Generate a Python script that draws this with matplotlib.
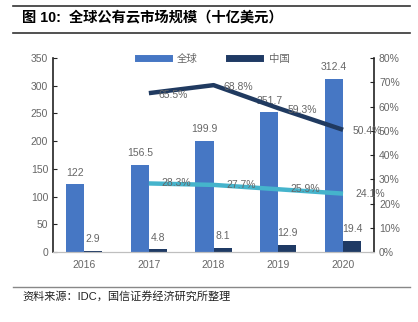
import matplotlib
matplotlib.use("Agg")
import matplotlib.pyplot as plt
import numpy as np
from matplotlib.lines import Line2D

plt.rcParams['font.family'] = ['Liberation Sans', 'Noto Sans CJK SC', 'DejaVu Sans']

years = ["2016", "2017", "2018", "2019", "2020"]
global_vals = [122, 156.5, 199.9, 251.7, 312.4]
china_vals = [2.9, 4.8, 8.1, 12.9, 19.4]
china_growth = [65.5, 68.8, 59.3, 50.4]   # 2017-2020
global_growth = [28.3, 27.7, 25.9, 24.1]  # 2017-2020
growth_years_idx = [1, 2, 3, 4]

c_global = "#4677C4"
c_china = "#1F3A64"
c_line_cn = "#203A60"
c_line_gl = "#45B4CC"
grey = "#666666"

fig = plt.figure(figsize=(4.18, 3.22), dpi=100)
ax = fig.add_axes([0.127, 0.217, 0.768, 0.603])
ax2 = ax.twinx()

x = np.arange(len(years))
w = 0.28
ax.bar(x - w/2, global_vals, w, color=c_global, zorder=2)
ax.bar(x + w/2, china_vals, w, color=c_china, zorder=2)

for xi, v in zip(x, global_vals):
    ax.annotate(f"{v:g}", (xi - w/2, v), xytext=(0, 5), textcoords="offset points",
                ha="center", va="bottom", fontsize=7.5, color=grey)
for xi, v in zip(x, china_vals):
    ax.annotate(f"{v:g}", (xi + w/2, v), xytext=(0, 5), textcoords="offset points",
                ha="center", va="bottom", fontsize=7.5, color=grey)

ax.set_xlim(-0.48, 4.48)
ax.set_ylim(0, 350)
ax.set_yticks(np.arange(0, 351, 50))
ax.set_xticks(x)
ax.set_xticklabels(years)
ax2.set_ylim(0, 80)
ax2.set_yticks(np.arange(0, 81, 10))
ax2.set_yticklabels([f"{v}%" for v in range(0, 81, 10)])

gx = [x[i] for i in growth_years_idx]
ax2.plot(gx, china_growth, color=c_line_cn, lw=3.2, solid_capstyle="butt", zorder=3)
ax2.plot(gx, global_growth, color=c_line_gl, lw=3.2, solid_capstyle="butt", zorder=3)
for xi, v in zip(gx, china_growth):
    ax2.annotate(f"{v:.1f}%", (xi, v), xytext=(7, -1), textcoords="offset points",
                 ha="left", va="center", fontsize=7.5, color=grey)
for xi, v in zip(gx, global_growth):
    ax2.annotate(f"{v:.1f}%", (xi, v), xytext=(9, 0), textcoords="offset points",
                 ha="left", va="center", fontsize=7.5, color=grey)

for a in (ax, ax2):
    a.spines['top'].set_visible(False)
    a.tick_params(axis='both', labelsize=7.5, labelcolor=grey, direction='in', length=3, color="#222222")
    a.spines['bottom'].set_color("#BFBFBF")
ax.spines['left'].set_color("#222222")
ax.spines['left'].set_linewidth(1.2)
ax.spines['right'].set_visible(False)
ax2.spines['right'].set_color("#222222")
ax2.spines['right'].set_linewidth(1.2)
ax2.spines['left'].set_visible(False)
ax.tick_params(axis='x', length=0, pad=6)

handles = [Line2D([0], [0], color=c_global, lw=5), Line2D([0], [0], color=c_china, lw=5)]
ax.legend(handles, ["全球", "中国"], loc="upper center", bbox_to_anchor=(0.5, 1.07), ncol=2,
          frameon=False, fontsize=7.5, labelcolor=grey, handlelength=3.0, columnspacing=3.0)

# title & frame lines
fig.add_artist(Line2D([0.03, 0.98], [1 - 6/322, 1 - 6/322], color="#333333", lw=1.2))
fig.add_artist(Line2D([0.03, 0.98], [1 - 33/322, 1 - 33/322], color="#333333", lw=1.2))
fig.text(0.053, 1 - 18/322, "图 10:  全球公有云市场规模（十亿美元）", fontsize=10.3, fontweight="bold",
         va="center", ha="left", color="black")
fig.add_artist(Line2D([0.03, 0.98], [1 - 287/322, 1 - 287/322], color="#888888", lw=1))
fig.text(0.053, 1 - 296/322, "资料来源：IDC，国信证券经济研究所整理", fontsize=8, va="center",
         ha="left", color="#222222")

fig.savefig("out.png", dpi=100)
